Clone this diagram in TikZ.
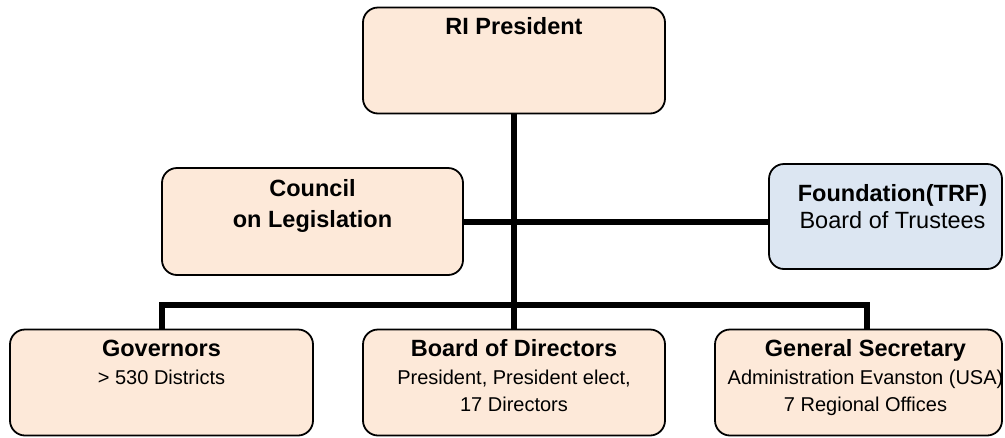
\documentclass[tikz,border=0pt]{standalone}
\usepackage{fontspec}
\setmainfont{Liberation Sans}
\usepackage{xcolor}
\usepackage{tikz}
\usetikzlibrary{positioning}

\definecolor{peach}{HTML}{FDE9D9}
\definecolor{paleblue}{HTML}{DCE6F2}
\newcommand{\hdfont}{\bfseries\fontsize{23.5}{28}\selectfont}

\begin{document}
\begin{tikzpicture}[
    x=1pt, y=-1pt,
    box/.style={draw, line width=1.8pt, rounded corners=15pt, fill=peach, minimum width=302pt, minimum height=106pt, inner sep=0pt},
    boxtext/.style={anchor=north, align=center, inner sep=0pt, font=\fontsize{20}{27}\selectfont},
    conn/.style={draw, line width=6pt}
  ]
  \useasboundingbox (0,0) rectangle (1005,437);

  % boxes
  \node[box] (pres) at (514,60.5) {};
  \node[box, minimum width=301pt, minimum height=107pt] (council) at (312.5,221.5) {};
  \node[box, fill=paleblue, minimum width=233pt, minimum height=105pt] (trf) at (885.5,216.5) {};
  \node[box, minimum width=303pt] (gov) at (161.5,382.5) {};
  \node[box] (board) at (514,382.5) {};
  \node[box, minimum width=287pt] (gensec) at (858.5,382.5) {};

  % texts
  \node[boxtext, below=11pt of pres.north, anchor=north] (pres-t) {{\hdfont RI President}};
  \node[boxtext, below=12pt of council.north, anchor=north] (council-t) {{\hdfont Council}\\[4pt]{\hdfont on Legislation}};
  \node[boxtext, anchor=north, font=\fontsize{23.5}{27}\selectfont] (trf-t) at ([xshift=7pt,yshift=-21pt]trf.north) {{\hdfont Foundation(TRF)}\\{Board of Trustees}};
  \node[boxtext, below=11pt of gov.north, anchor=north] (gov-t) {{\hdfont Governors}\\[1pt]{> 530 Districts}};
  \node[boxtext, below=11pt of board.north, anchor=north] (board-t) {{\hdfont Board of Directors}\\[1pt]{President, President elect,}\\{17 Directors}};
  \node[boxtext, anchor=north] (gensec-t) at ([xshift=7pt,yshift=-11pt]gensec.north) {{\hdfont General Secretary}\\[1pt]{Administration Evanston (USA)}\\{7 Regional Offices}};

  % connectors
  \coordinate (busL) at ([yshift=24pt]gov.north);
  \coordinate (dropR) at ([xshift=8.5pt]gensec.north);
  \draw[conn] (pres.south) -- (board.north);
  \draw[conn] (council.east) -- (council.east -| trf.west);
  \draw[conn] (gov.north) -- (busL) -| (dropR);
\end{tikzpicture}
\end{document}
